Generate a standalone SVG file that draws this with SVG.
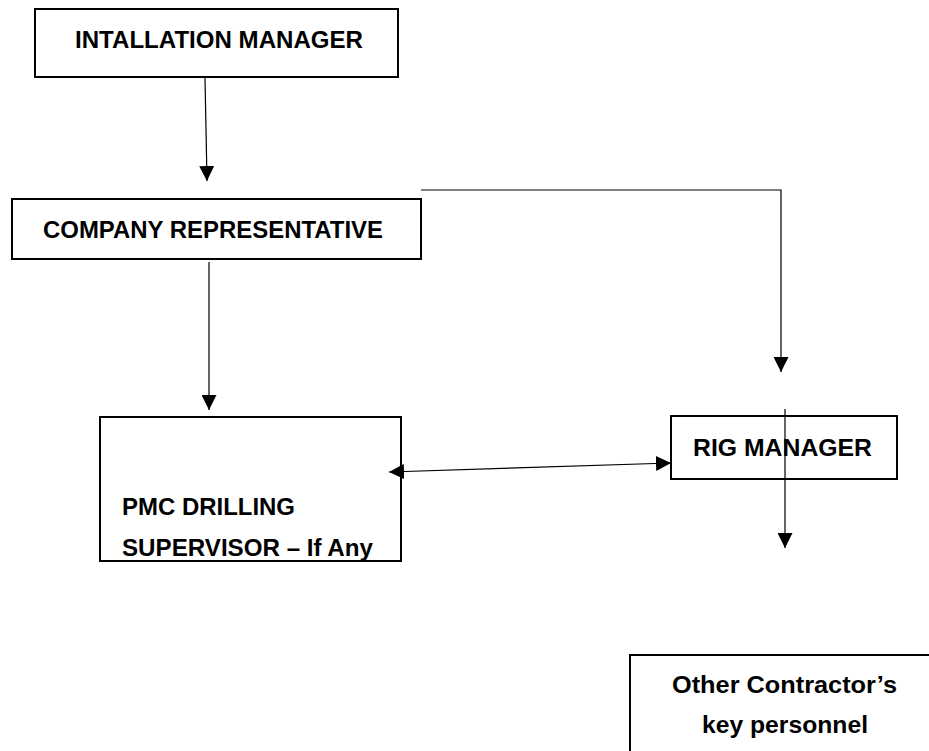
<svg xmlns="http://www.w3.org/2000/svg" width="929" height="751" viewBox="0 0 929 751">
<style>
.box{fill:#fff;stroke:#000;stroke-width:2}
.lbl{font-family:"Liberation Sans",Arial,sans-serif;font-weight:bold;font-size:24px;fill:#000}
.conn{fill:none;stroke:#000;stroke-width:1.2}
</style>
<defs>
<marker id="ah" markerUnits="userSpaceOnUse" markerWidth="15" markerHeight="15" viewBox="0 0 15 15" refX="15" refY="7.5" orient="auto-start-reverse">
<path d="M0,0 L15,7.5 L0,15 z" fill="#000"/>
</marker>
</defs>
<rect width="929" height="751" fill="#fff"/>
<g id="installation-manager">
<rect class="box" x="35" y="9" width="363" height="68"/>
<text class="lbl" x="75" y="48" textLength="288" lengthAdjust="spacingAndGlyphs">INTALLATION MANAGER</text>
</g>
<g id="company-representative">
<rect class="box" x="12" y="199" width="409" height="60"/>
<text class="lbl" x="43" y="238" textLength="340" lengthAdjust="spacingAndGlyphs">COMPANY REPRESENTATIVE</text>
</g>
<g id="pmc-drilling-supervisor">
<rect class="box" x="100" y="417" width="301" height="144"/>
<text class="lbl" x="122" y="515" textLength="173" lengthAdjust="spacingAndGlyphs">PMC DRILLING</text>
<text class="lbl" x="122" y="556" textLength="251" lengthAdjust="spacingAndGlyphs">SUPERVISOR – If Any</text>
</g>
<g id="rig-manager">
<rect class="box" x="671" y="416" width="226" height="63"/>
<text class="lbl" x="693" y="456" textLength="179" lengthAdjust="spacingAndGlyphs">RIG MANAGER</text>
</g>
<g id="other-contractors">
<rect class="box" x="630" y="655" width="320" height="120"/>
<text class="lbl" x="672" y="693" textLength="225" lengthAdjust="spacingAndGlyphs">Other Contractor’s</text>
<text class="lbl" x="702" y="733" textLength="166" lengthAdjust="spacingAndGlyphs">key personnel</text>
</g>
<g id="connectors">
<path class="conn" d="M205,78 L207,181" marker-end="url(#ah)"/>
<path class="conn" d="M209,262 L209,410" marker-end="url(#ah)"/>
<path class="conn" d="M421,190 H781 V372" marker-end="url(#ah)"/>
<path class="conn" d="M785,409 V548" marker-end="url(#ah)"/>
<path class="conn" d="M389,472 L671,463" marker-start="url(#ah)" marker-end="url(#ah)"/>
</g>
</svg>
